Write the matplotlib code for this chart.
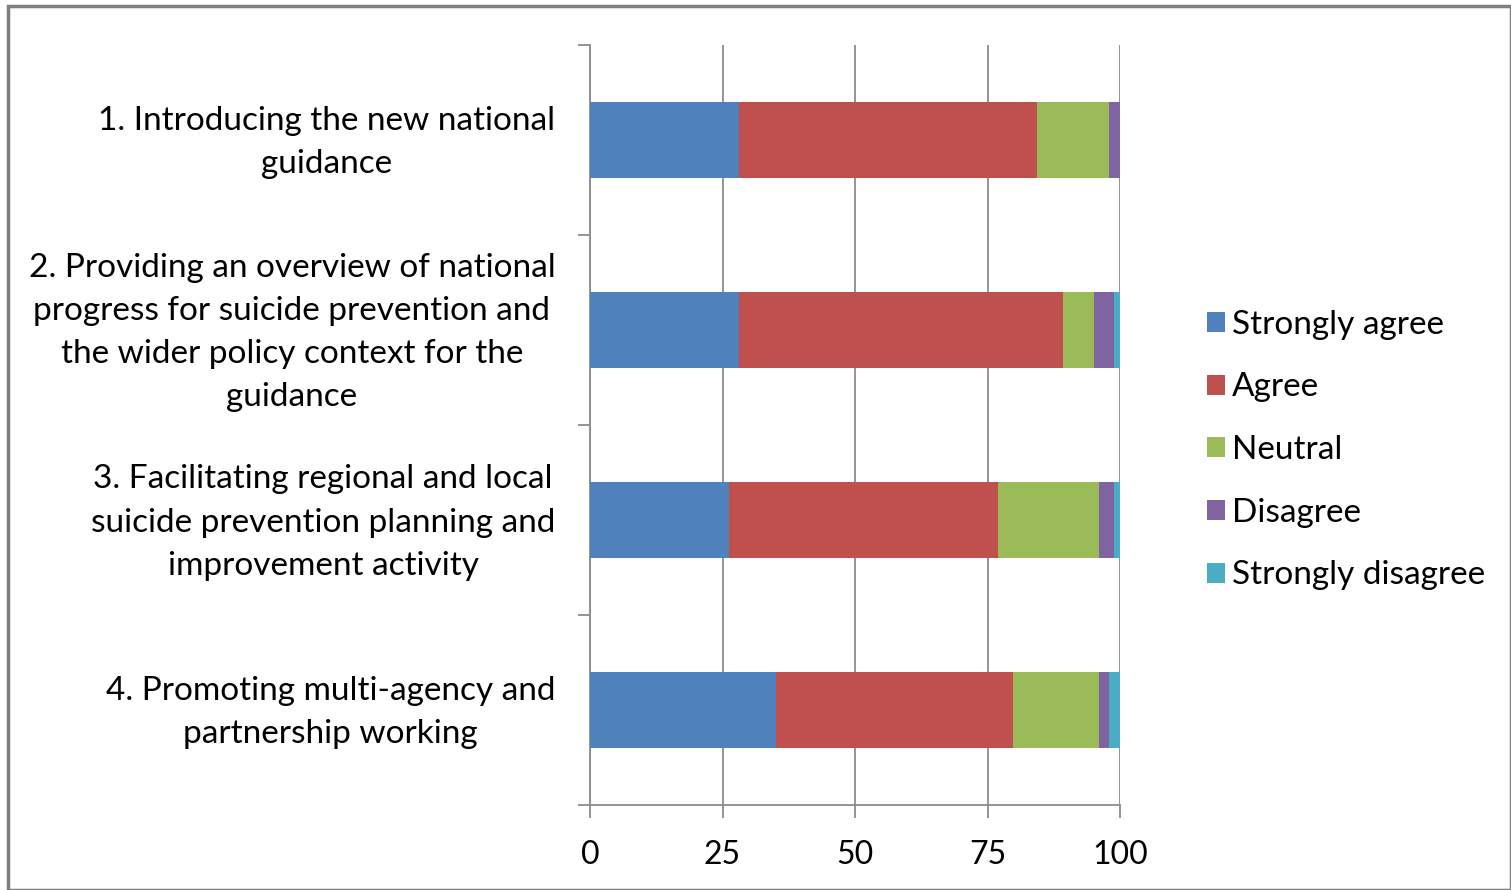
import matplotlib
matplotlib.use("Agg")
import matplotlib.pyplot as plt
from matplotlib.patches import Rectangle
from matplotlib.ticker import FixedLocator
from matplotlib.transforms import ScaledTranslation

plt.rcParams['font.family'] = ['Lato', 'DejaVu Sans']

categories = [
    "1. Introducing the new national\nguidance",
    "2. Providing an overview of national\nprogress for suicide prevention and\nthe wider policy context for the\nguidance",
    "3. Facilitating regional and local\nsuicide prevention planning and\nimprovement activity",
    "4. Promoting multi-agency and\npartnership working",
]
series_names = ["Strongly agree", "Agree", "Neutral", "Disagree", "Strongly disagree"]
strongly_agree = [28.2, 28.2, 26.2, 35.0]
agree = [56.2, 61.0, 50.7, 44.8]
neutral = [13.6, 5.9, 19.1, 16.2]
disagree = [2.0, 3.8, 2.9, 2.0]
strongly_disagree = [0.0, 1.1, 1.1, 2.0]
x_ticks = [0, 25, 50, 75, 100]

series = [strongly_agree, agree, neutral, disagree, strongly_disagree]
colors = ["#4F81BD", "#C0504D", "#9BBB59", "#8064A2", "#4BACC6"]

fig = plt.figure(figsize=(15.11, 8.9), dpi=100)
ax = fig.add_axes([590/1511, 85/890, 530/1511, 760/890])

ypos = [i + 0.5 for i in range(len(categories))]
left = [0.0] * len(categories)
for name, vals, c in zip(series_names, series, colors):
    ax.barh(ypos, vals, left=left, height=0.4, color=c, label=name, zorder=3)
    left = [l + v for l, v in zip(left, vals)]

ax.set_xlim(0, 100)
ax.set_ylim(len(categories), 0)
ax.set_xticks(x_ticks)
ax.set_xticklabels([str(t) for t in x_ticks])
ax.set_yticks(ypos)
ax.set_yticklabels(categories, ha='right', multialignment='center', linespacing=1.55)
ax.yaxis.set_minor_locator(FixedLocator(list(range(len(categories) + 1))))

gray = "#8C8C8C"
ax.grid(axis='x', color=gray, linewidth=1.3, zorder=0)
for s in ['top', 'right']:
    ax.spines[s].set_visible(False)
for s in ['left', 'bottom']:
    ax.spines[s].set_color(gray)
    ax.spines[s].set_linewidth(1.3)

ax.tick_params(axis='y', which='major', length=0, pad=25, labelsize=24)
ax.tick_params(axis='y', which='minor', length=9, color=gray, width=1.3)
ax.tick_params(axis='x', which='major', length=9, color=gray, width=1.3, pad=16, labelsize=23)

shift = ScaledTranslation(0, 7/100, fig.dpi_scale_trans)
for lab in ax.get_yticklabels():
    lab.set_transform(lab.get_transform() + shift)

leg = ax.legend(loc='center left', bbox_to_anchor=(1.107, 0.467), frameon=False,
                fontsize=24, handlelength=0.55, handleheight=0.55,
                handletextpad=0.2, labelspacing=0.98)

fig.patches.append(Rectangle((8/1511, 0), 1 - 8/1511, 1 - 6/890, transform=fig.transFigure,
                             fill=False, edgecolor="#7F7F7F", linewidth=2.5))

fig.savefig("out.png", dpi=100)
